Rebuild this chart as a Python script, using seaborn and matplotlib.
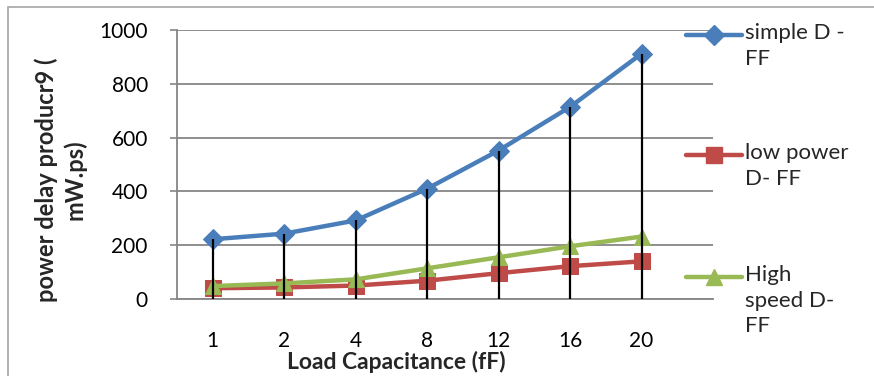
import matplotlib
matplotlib.use("Agg")
import matplotlib.pyplot as plt
from matplotlib.lines import Line2D
from matplotlib.patches import Rectangle
import seaborn as sns
import numpy as np

categories = ["1", "2", "4", "8", "12", "16", "20"]
simple_dff = [222, 243, 292, 410, 552, 714, 912]
low_power_dff = [40, 43, 50, 68, 96, 122, 140]
high_speed_dff = [48, 58, 73, 114, 155, 196, 232]
series_names = ["simple D -\nFF", "low power\nD- FF", "High\nspeed D-\nFF"]
colors = ["#4A7EBB", "#BE4B48", "#98B954"]
markers = ["D", "s", "^"]

sns.set_theme(style="white")
plt.rcParams['font.family'] = ['Lato', 'DejaVu Sans']

W, H = 874, 376
fig = plt.figure(figsize=(W / 100, H / 100), dpi=100)

def fx(px):
    return px / W

def fy(py):
    return 1 - py / H

ax = fig.add_axes([fx(177), fy(299), fx(713) - fx(177), fy(30) - fy(299)])

x = np.arange(len(categories))
all_series = [simple_dff, low_power_dff, high_speed_dff]
msizes = [10, 11, 12]
for vals, c, m, ms in zip(all_series, colors, markers, msizes):
    sns.lineplot(x=x, y=vals, color=c, marker=m, markersize=ms, markeredgecolor=c,
                 linewidth=3.2, ax=ax, zorder=3)

# high-low style drop lines
tops = np.max(np.array(all_series), axis=0)
ax.vlines(x, 0, tops, color="black", linewidth=1.6, zorder=5)

ax.set_xlim(-0.5, 7.0)
ax.set_ylim(0, 1000)
ax.set_yticks([0, 200, 400, 600, 800, 1000])
ax.set_xticks(x)
ax.set_xticklabels(categories)
ax.tick_params(axis="y", which="both", left=True, length=5, width=1.2, color="#868686",
               labelsize=15, pad=16, labelcolor="black")
ax.tick_params(axis="x", bottom=False, labelsize=15, pad=17, labelcolor="black")
ax.grid(axis="y", color="#868686", linewidth=1.3)
ax.set_axisbelow(True)
for s in ["top", "right"]:
    ax.spines[s].set_visible(False)
for s in ["left", "bottom"]:
    ax.spines[s].set_color("#868686")
    ax.spines[s].set_linewidth(1.3)
ax.set_xlabel("")
ax.set_ylabel("")

fig.text(fx(396), fy(362), "Load Capacitance (fF)", ha="center", va="center",
         fontsize=16.5, fontweight="bold")
fig.text(fx(46), fy(180), "power delay producr9 (", ha="center", va="center",
         rotation=90, fontsize=17, fontweight="bold")
fig.text(fx(75), fy(180), "mW.ps)", ha="center", va="center",
         rotation=90, fontsize=17, fontweight="bold")

# legend drawn at the right
leg_y = [35, 155, 277]
for name, c, m, ms, yy in zip(series_names, colors, markers, msizes, leg_y):
    fig.add_artist(Line2D([fx(686), fx(742)], [fy(yy), fy(yy)], color=c, linewidth=3.2,
                          marker=None, transform=fig.transFigure))
    fig.add_artist(Line2D([fx(714)], [fy(yy)], color=c, marker=m, markersize=ms,
                          markeredgecolor=c, linestyle="none", transform=fig.transFigure))
    fig.text(fx(745), fy(yy - 12), name, ha="left", va="top", fontsize=16,
             linespacing=1.35)

# outer frame
fig.add_artist(Rectangle((fx(8), fy(380)), fx(880) - fx(8), fy(7) - fy(380),
                         transform=fig.transFigure, fill=False, edgecolor="#A6A6A6",
                         linewidth=1.2))

fig.savefig("out.png", dpi=100)
